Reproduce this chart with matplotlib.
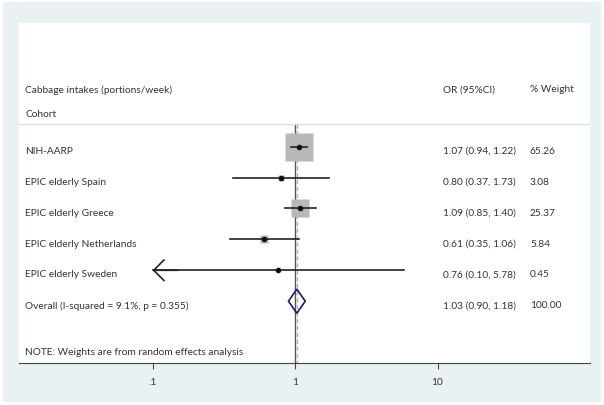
import numpy as np
import matplotlib
matplotlib.use("Agg")
import matplotlib.pyplot as plt
from matplotlib.patches import Rectangle, Polygon

plt.rcParams['font.family'] = ['Lato', 'DejaVu Sans']

# ---- data ----
cohorts = ["NIH-AARP", "EPIC elderly Spain", "EPIC elderly Greece",
           "EPIC elderly Netherlands", "EPIC elderly Sweden"]
or_est = [1.07, 0.80, 1.09, 0.61, 0.76]
ci_low = [0.94, 0.37, 0.85, 0.35, 0.10]
ci_high = [1.22, 1.73, 1.40, 1.06, 5.78]
weights = [65.26, 3.08, 25.37, 5.84, 0.45]

overall_label = "Overall (I-squared = 9.1%, p = 0.355)"
overall_or = 1.03
overall_low = 0.90
overall_high = 1.18

tick_vals = [0.1, 1, 10]
tick_labels = [".1", "1", "10"]

# ---- layout helpers ----
W, H = 604, 406
fig = plt.figure(figsize=(W / 100, H / 100), dpi=100, facecolor="white")
fig.patches.append(Rectangle((3 / W, 4 / H), 597 / W, 399 / H,
                             transform=fig.transFigure, color="#eaf1f3", zorder=-5))

left, right, top, bottom = 19, 590, 24, 364
ax = fig.add_axes([left / W, 1 - bottom / H, (right - left) / W, (bottom - top) / H])
ax.set_facecolor("white")

px_decade = 142.5
x0 = 295
ax.set_xscale("log")
ax.set_xlim(10 ** ((left - x0) / px_decade), 10 ** ((right - x0) / px_decade))
ax.set_ylim(7.0, -4.0)

def xf(px):
    return (px - left) / (right - left)

trans = ax.get_yaxis_transform()  # x in axes coords, y in data
txt_col = "#333333"
fs = 7.3
toff = 0.12

# headers
ax.text(xf(25), -1.87, "Cabbage intakes (portions/week)", transform=trans,
        fontsize=fs, color=txt_col, va="center")
ax.text(xf(25), -1.08, "Cohort", transform=trans, fontsize=fs, color=txt_col, va="center")
ax.text(xf(443), -1.87, "OR (95%CI)", transform=trans, fontsize=fs, color=txt_col, va="center")
ax.text(xf(530), -1.87, "% Weight", transform=trans, fontsize=fs, color=txt_col, va="center")
ax.plot([0, 1], [-0.72, -0.72], transform=trans, color="#dddddd", lw=1)

sep_y = -0.72
ax.plot([1, 1], [sep_y, 7.0], color="#555555", lw=1, zorder=1)
ax.plot([overall_or, overall_or], [sep_y, 7.0], color="#d0a8a8", lw=1,
        ls=(0, (3, 2)), zorder=1)

xmin_plot = tick_vals[0]
for i, (name, est, lo, hi, w) in enumerate(zip(cohorts, or_est, ci_low, ci_high, weights)):
    ms = 20.2 * np.sqrt(w / weights[0])
    ax.plot(est, i, marker="s", ms=ms, color="#b8b8b8", mec="none", zorder=2)
    if lo <= xmin_plot:
        ax.plot([xmin_plot, hi], [i, i], color="#222222", lw=1.2, zorder=3)
        ax.annotate("", xy=(xmin_plot, i), xytext=(xmin_plot * 1.5, i),
                    arrowprops=dict(arrowstyle="->,head_length=0.5,head_width=0.5",
                                    color="#222222", lw=1.2, mutation_scale=15,
                                    shrinkA=0, shrinkB=0), zorder=3)
    else:
        ax.plot([lo, hi], [i, i], color="#222222", lw=1.2, zorder=3)
    ax.plot(est, i, marker="o", ms=3, color="#111111", zorder=4)
    ax.text(xf(25), i + toff, name, transform=trans, fontsize=fs, color=txt_col, va="center")
    ax.text(xf(443), i + toff, f"{est:.2f} ({lo:.2f}, {hi:.2f})", transform=trans,
            fontsize=fs, color=txt_col, va="center")
    ax.text(xf(530), i + toff, f"{w:.2f}", transform=trans, fontsize=fs,
            color=txt_col, va="center")

# overall diamond
k = len(cohorts)
ax.add_patch(Polygon([[overall_low, k], [overall_or, k - 0.39], [overall_high, k],
                      [overall_or, k + 0.39]], closed=True, fill=False,
                     ec="#1a1a6e", lw=1.2, zorder=4))
ax.text(xf(25), k + toff, overall_label, transform=trans, fontsize=fs, color=txt_col, va="center")
ax.text(xf(443), k + toff, f"{overall_or:.2f} ({overall_low:.2f}, {overall_high:.2f})",
        transform=trans, fontsize=fs, color=txt_col, va="center")
ax.text(xf(530), k + toff, f"{sum(weights):.2f}", transform=trans, fontsize=fs,
        color=txt_col, va="center")

ax.text(xf(25), 6.62, "NOTE: Weights are from random effects analysis", transform=trans,
        fontsize=fs, color=txt_col, va="center")

# axis
for s in ["top", "left", "right"]:
    ax.spines[s].set_visible(False)
ax.spines["bottom"].set_color("#444444")
ax.set_yticks([])
ax.set_xticks(tick_vals)
ax.set_xticklabels(tick_labels)
ax.xaxis.set_minor_locator(matplotlib.ticker.NullLocator())
ax.tick_params(axis="x", length=4, width=0.8, color="#444444", labelsize=fs,
               labelcolor=txt_col, pad=6)

fig.savefig("out.png", dpi=100, facecolor="white")
